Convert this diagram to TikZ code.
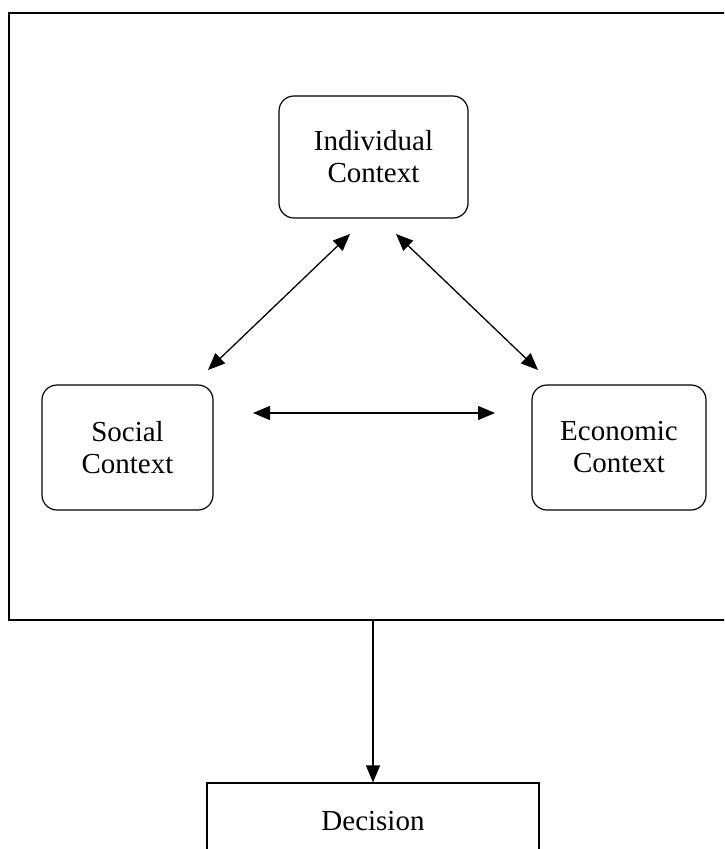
\documentclass[tikz,border=0pt]{standalone}
\usepackage{fontspec}
\setmainfont{Liberation Serif}
\usetikzlibrary{arrows.meta,calc}
\tikzset{
  ctxbox/.style={draw, line width=1.2pt, rounded corners=15pt, inner sep=0pt, align=center},
  plainbox/.style={draw, line width=1.2pt, inner sep=0pt, align=center},
  outerbox/.style={draw, line width=1.6pt, inner sep=0pt},
  link/.style={line width=1.3pt, {Triangle[length=17pt,width=14pt]}-{Triangle[length=17pt,width=14pt]}},
  flow/.style={line width=1.3pt, -{Triangle[length=17pt,width=14pt]}},
  lbl/.style={font=\fontsize{29}{32}\selectfont}
}
\begin{document}
\begin{tikzpicture}[x=1pt,y=-1pt]
\useasboundingbox (0,0) rectangle (724,849);
\clip (0,0) rectangle (724,849);
\fill[white] (0,0) rectangle (724,849);
\node[outerbox, minimum width=721pt, minimum height=607pt] (outer) at (369.5,316.5) {};
\node[ctxbox, lbl, minimum width=189pt, minimum height=122pt] (ind) at (373.5,157) {Individual\\Context};
\node[ctxbox, lbl, minimum width=171pt, minimum height=125pt] (soc) at (127.5,447.5) {Social\\Context};
\node[ctxbox, lbl, minimum width=174pt, minimum height=125pt] (eco) at (619,447.5) {Economic\\Context};
\node[plainbox, lbl, minimum width=332pt, minimum height=76pt] (dec) at (373,821) {Decision};
\coordinate (is1) at (350,234);
\coordinate (is2) at (208,370);
\coordinate (ie1) at (396,234);
\coordinate (ie2) at (538,370);
\coordinate (se1) at (253,413);
\coordinate (se2) at (495,413);
\draw[link] (is1) -- (is2);
\draw[link] (ie1) -- (ie2);
\draw[link] (se1) -- (se2);
\draw[flow] (dec.north |- outer.south) -- (dec.north);
\end{tikzpicture}
\end{document}
